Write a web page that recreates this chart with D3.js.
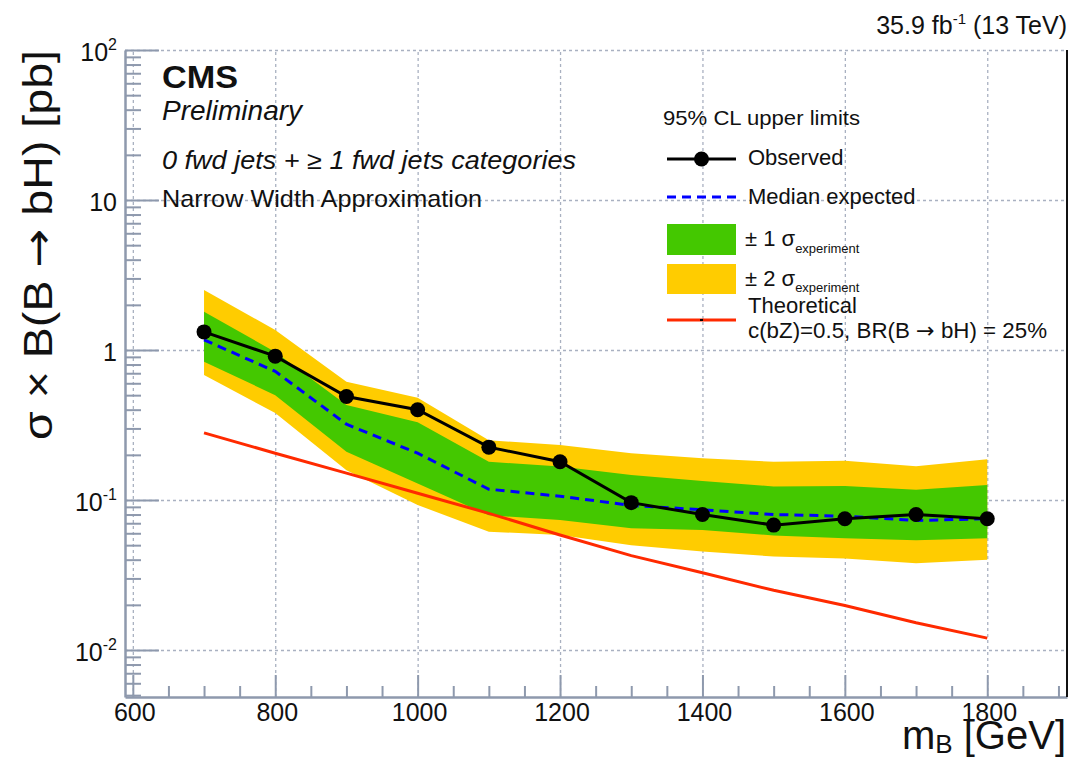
<!DOCTYPE html>
<html>
<head>
<meta charset="utf-8">
<script src="https://cdn.jsdelivr.net/npm/d3@7"></script>
<style>
  body { margin: 0; background: #fff; }
  svg text { font-family: "Liberation Sans", Arial, sans-serif; fill: #111; }
  .arrow { font-family: "DejaVu Sans", sans-serif; }
</style>
</head>
<body>
<svg id="chart"></svg>
<script>
// mass points (GeV)
const masses = [700, 800, 900, 1000, 1100, 1200, 1300, 1400, 1500, 1600, 1700, 1800];
// 95% CL limits in pb
const observed = [1.32, 0.91, 0.49, 0.40, 0.225, 0.18, 0.096, 0.08, 0.068, 0.075, 0.08, 0.075];
const expected = [1.17, 0.72, 0.32, 0.205, 0.118, 0.106, 0.092, 0.086, 0.080, 0.078, 0.073, 0.075];
const oneSigmaLow = [0.836, 0.50, 0.21, 0.129, 0.079, 0.0736, 0.0648, 0.063, 0.058, 0.0555, 0.054, 0.0555];
const oneSigmaHigh = [1.80, 0.97, 0.43, 0.33, 0.18, 0.167, 0.147, 0.134, 0.123, 0.124, 0.117, 0.126];
const twoSigmaLow = [0.68, 0.38, 0.158, 0.0926, 0.0615, 0.0584, 0.05, 0.0453, 0.042, 0.0408, 0.0378, 0.040];
const twoSigmaHigh = [2.51, 1.36, 0.615, 0.48, 0.25, 0.233, 0.205, 0.19, 0.18, 0.183, 0.168, 0.187];
const theory = [0.28, 0.205, 0.151, 0.111, 0.0815, 0.0584, 0.0426, 0.0327, 0.025, 0.0198, 0.0152, 0.012];

const xMajorTicks = [600, 800, 1000, 1200, 1400, 1600, 1800];
const yDecades = [0.01, 0.1, 1, 10, 100];
const yTickLabels = [["10", "-2"], ["10", "-1"], ["1", ""], ["10", ""], ["10", "2"]];

const w = 1082, h = 760;
const pLeft = 125, pRight = 1067, pTop = 50, pBottom = 697;
const axisColor = "#8e99ad";
const gridColor = "#a9b1c1";

const svg = d3.select("#chart").attr("width", w).attr("height", h);

const x = d3.scaleLinear().domain([589, 1912]).range([pLeft, pRight]);
const y = d3.scaleLog().domain([0.00486, 100]).range([pBottom, pTop]);

// grid
svg.append("g").attr("transform", `translate(0,${pBottom})`)
  .call(d3.axisBottom(x).tickValues(xMajorTicks).tickSize(-(pBottom - pTop)).tickFormat(""))
  .call(g => g.select(".domain").remove())
  .selectAll("line").attr("stroke", gridColor).attr("stroke-width", 1.3).attr("stroke-dasharray", "3,3");
svg.append("g").attr("transform", `translate(${pLeft},0)`)
  .call(d3.axisLeft(y).tickValues(yDecades).tickSize(-(pRight - pLeft)).tickFormat(""))
  .call(g => g.select(".domain").remove())
  .selectAll("line").attr("stroke", gridColor).attr("stroke-width", 1.3).attr("stroke-dasharray", "3,3");

// bands
const rows = masses.map((m, i) => ({
  m: m, lo1: oneSigmaLow[i], hi1: oneSigmaHigh[i], lo2: twoSigmaLow[i], hi2: twoSigmaHigh[i]
}));
svg.append("path").datum(rows).attr("fill", "#ffcc00")
  .attr("d", d3.area().x(d => x(d.m)).y0(d => y(d.lo2)).y1(d => y(d.hi2)));
svg.append("path").datum(rows).attr("fill", "#44c800")
  .attr("d", d3.area().x(d => x(d.m)).y0(d => y(d.lo1)).y1(d => y(d.hi1)));

const line = d3.line().x(d => x(d[0])).y(d => y(d[1]));

// theory
svg.append("path").datum(masses.map((m, i) => [m, theory[i]]))
  .attr("fill", "none").attr("stroke", "#ff2a00").attr("stroke-width", 3).attr("d", line);

// expected
svg.append("path").datum(masses.map((m, i) => [m, expected[i]]))
  .attr("fill", "none").attr("stroke", "#0000ff").attr("stroke-width", 3)
  .attr("stroke-dasharray", "9,6").attr("d", line);

// observed
const obs = masses.map((m, i) => [m, observed[i]]);
svg.append("path").datum(obs)
  .attr("fill", "none").attr("stroke", "#000").attr("stroke-width", 3).attr("d", line);
svg.selectAll("circle.obs").data(obs).enter().append("circle").attr("class", "obs")
  .attr("cx", d => x(d[0])).attr("cy", d => y(d[1])).attr("r", 7.5).attr("fill", "#000");

// axes (ticks point inward)
const yMinor = [];
[0.001, 0.01, 0.1, 1, 10].forEach(d => {
  for (let k = 2; k <= 9; k++) {
    const v = k * d;
    if (v > 0.00486 && v < 100) yMinor.push(v);
  }
});
const xMinor = d3.range(600, 1901, 50).filter(v => v % 200 !== 0);

function styleAxis(g) {
  g.selectAll("line").attr("stroke", axisColor).attr("stroke-width", 2);
  g.select(".domain").attr("stroke", axisColor).attr("stroke-width", 2.5);
}
svg.append("g").attr("transform", `translate(${pLeft},0)`)
  .call(d3.axisLeft(y).tickValues(yMinor).tickSize(-16).tickSizeOuter(0).tickFormat(""))
  .call(styleAxis);
svg.append("g").attr("transform", `translate(${pLeft},0)`)
  .call(d3.axisLeft(y).tickValues(yDecades).tickSize(-34).tickSizeOuter(0).tickFormat(""))
  .call(g => g.select(".domain").remove())
  .call(styleAxis);
svg.append("g").attr("transform", `translate(0,${pBottom})`)
  .call(d3.axisBottom(x).tickValues(xMinor).tickSize(-11).tickSizeOuter(0).tickFormat(""))
  .call(styleAxis);
svg.append("g").attr("transform", `translate(0,${pBottom})`)
  .call(d3.axisBottom(x).tickValues(xMajorTicks).tickSize(-22).tickSizeOuter(0).tickFormat(""))
  .call(g => g.select(".domain").remove())
  .call(styleAxis);

// right frame
svg.append("line").attr("x1", pRight).attr("x2", pRight).attr("y1", pTop).attr("y2", pBottom)
  .attr("stroke", "#111").attr("stroke-width", 2);

// tick labels
svg.selectAll("text.xl").data(xMajorTicks).enter().append("text").attr("class", "xl")
  .attr("x", d => x(d) + 2).attr("y", 721).attr("text-anchor", "middle")
  .attr("font-size", 25).text(d => d);

yDecades.forEach((v, i) => {
  const t = svg.append("text").attr("x", 117).attr("y", y(v) + 11)
    .attr("text-anchor", "end").attr("font-size", 25);
  t.append("tspan").text(yTickLabels[i][0]);
  if (yTickLabels[i][1]) {
    t.append("tspan").attr("font-size", 16).attr("dy", -11).text(yTickLabels[i][1]);
  }
});

// axis titles
const yt = svg.append("text").attr("transform", "translate(52,50) rotate(-90)")
  .attr("text-anchor", "end").attr("font-size", 41)
  .attr("textLength", 390).attr("lengthAdjust", "spacingAndGlyphs");
yt.append("tspan").text("σ × B(B ");
yt.append("tspan").attr("class", "arrow").text("→");
yt.append("tspan").text(" bH) [pb]");

const xt = svg.append("text").attr("x", 1066).attr("y", 749)
  .attr("text-anchor", "end").attr("font-size", 40);
xt.append("tspan").text("m");
xt.append("tspan").attr("font-size", 26).attr("dy", 4).text("B");
xt.append("tspan").attr("dy", -4).text(" [GeV]");

// lumi label
const lumi = svg.append("text").attr("x", 1067).attr("y", 34)
  .attr("text-anchor", "end").attr("font-size", 25);
lumi.append("tspan").text("35.9 fb");
lumi.append("tspan").attr("font-size", 15).attr("dy", -10).text("-1");
lumi.append("tspan").attr("dy", 10).text(" (13 TeV)");

// CMS labels
svg.append("text").attr("x", 162).attr("y", 88).attr("font-size", 31)
  .attr("font-weight", "bold").attr("textLength", 76).attr("lengthAdjust", "spacingAndGlyphs")
  .text("CMS");
svg.append("text").attr("x", 162).attr("y", 120).attr("font-size", 28)
  .attr("font-style", "italic").text("Preliminary");
svg.append("text").attr("x", 162).attr("y", 169).attr("font-size", 25)
  .attr("font-style", "italic").attr("textLength", 414).attr("lengthAdjust", "spacingAndGlyphs")
  .text("0 fwd jets + ≥ 1 fwd jets categories");
svg.append("text").attr("x", 162).attr("y", 207).attr("font-size", 24)
  .attr("textLength", 320).attr("lengthAdjust", "spacingAndGlyphs")
  .text("Narrow Width Approximation");

// legend
const lg = svg.append("g");
lg.append("text").attr("x", 663).attr("y", 125).attr("font-size", 21)
  .attr("textLength", 197).attr("lengthAdjust", "spacingAndGlyphs").text("95% CL upper limits");

lg.append("line").attr("x1", 667).attr("x2", 736).attr("y1", 159).attr("y2", 159)
  .attr("stroke", "#000").attr("stroke-width", 3);
lg.append("circle").attr("cx", 701.5).attr("cy", 159).attr("r", 7.5).attr("fill", "#000");
lg.append("text").attr("x", 748).attr("y", 165).attr("font-size", 22).text("Observed");

lg.append("line").attr("x1", 667).attr("x2", 736).attr("y1", 197).attr("y2", 197)
  .attr("stroke", "#0000ff").attr("stroke-width", 3).attr("stroke-dasharray", "9,6");
lg.append("text").attr("x", 748).attr("y", 204).attr("font-size", 22).text("Median expected");

lg.append("rect").attr("x", 667).attr("y", 224).attr("width", 69).attr("height", 31).attr("fill", "#44c800");
const s1 = lg.append("text").attr("x", 745).attr("y", 246).attr("font-size", 22);
s1.append("tspan").text("± 1 σ");
s1.append("tspan").attr("font-size", 13).attr("dy", 7).text("experiment");

lg.append("rect").attr("x", 667).attr("y", 264).attr("width", 69).attr("height", 30).attr("fill", "#ffcc00");
const s2 = lg.append("text").attr("x", 745).attr("y", 286).attr("font-size", 22);
s2.append("tspan").text("± 2 σ");
s2.append("tspan").attr("font-size", 13).attr("dy", 6).text("experiment");

lg.append("line").attr("x1", 667).attr("x2", 736).attr("y1", 320).attr("y2", 320)
  .attr("stroke", "#ff2a00").attr("stroke-width", 3);
lg.append("line").attr("x1", 700).attr("x2", 703).attr("y1", 320).attr("y2", 320)
  .attr("stroke", "#000").attr("stroke-width", 2);
lg.append("text").attr("x", 748).attr("y", 313).attr("font-size", 22).text("Theoretical");
const th = lg.append("text").attr("x", 748).attr("y", 338).attr("font-size", 22)
  .attr("textLength", 299).attr("lengthAdjust", "spacingAndGlyphs");
th.append("tspan").text("c(bZ)=0.5, BR(B ");
th.append("tspan").attr("class", "arrow").text("→");
th.append("tspan").text(" bH) = 25%");
</script>
</body>
</html>
